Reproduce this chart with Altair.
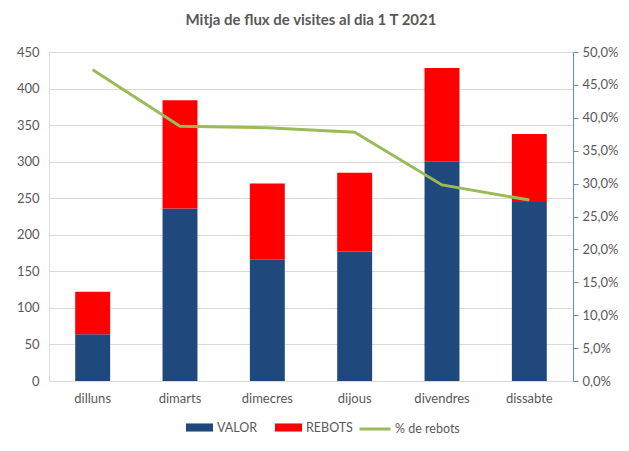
import altair as alt
import pandas as pd

days = ["dilluns", "dimarts", "dimecres", "dijous", "divendres", "dissabte"]
valor = [64, 236, 166, 177, 300, 245]
rebots = [58, 148, 104, 108, 128, 93]
pct_rebots = [47.3, 38.7, 38.5, 37.8, 29.8, 27.5]

series = ["VALOR", "REBOTS"]
bar_colors = ["#1F497D", "#FF0000"]
line_color = "#9BBB59"
text_color = "#595959"
FONT = "Lato"

rows = []
for d, v, r in zip(days, valor, rebots):
    rows.append({"dia": d, "serie": "VALOR", "valor": v, "ord": 0})
    rows.append({"dia": d, "serie": "REBOTS", "valor": r, "ord": 1})
bars_df = pd.DataFrame(rows)
line_df = pd.DataFrame({"dia": days, "pct": pct_rebots, "serie": ["% de rebots"] * len(days)})

x_enc = alt.X(
    "dia:N",
    sort=days,
    title=None,
    scale=alt.Scale(paddingInner=0.6, paddingOuter=0.3),
    axis=alt.Axis(labelAngle=0, ticks=False, domain=False, labelPadding=11,
                  labelFontSize=13, labelColor=text_color, labelFont=FONT, grid=False),
)

bars = alt.Chart(bars_df).mark_bar().encode(
    x=x_enc,
    y=alt.Y("valor:Q", stack="zero", title=None,
            scale=alt.Scale(domain=[0, 450], nice=False),
            axis=alt.Axis(values=list(range(0, 451, 50)), ticks=False, domain=False,
                          labelPadding=10, labelFontSize=13, labelColor=text_color,
                          labelFont=FONT, grid=True, gridColor="#D9D9D9")),
    color=alt.Color("serie:N", title=None,
                    scale=alt.Scale(domain=series, range=bar_colors),
                    legend=alt.Legend(orient="none", legendX=137, legendY=362,
                                      direction="horizontal",
                                      symbolType="M-1,-0.3H1V0.3H-1Z", symbolSize=729,
                                      symbolStrokeWidth=0, labelOffset=4, columnPadding=17,
                                      labelFontSize=12.5, labelColor=text_color, labelFont=FONT)),
    order=alt.Order("ord:Q"),
)

line = alt.Chart(line_df).mark_line(strokeWidth=3).encode(
    x=alt.X("dia:N", sort=days),
    y=alt.Y("pct:Q", title=None,
            scale=alt.Scale(domain=[0, 50], nice=False),
            axis=alt.Axis(orient="right", values=list(range(0, 51, 5)),
                          labelExpr="replace(format(datum.value, '.1f'), '.', ',') + '%'",
                          domainColor="#5B8DC9", tickColor="#5B8DC9", tickSize=5,
                          labelPadding=4, labelFontSize=13, labelColor=text_color,
                          labelFont=FONT, grid=False)),
    color=alt.Color("serie:N", title=None,
                    scale=alt.Scale(domain=["% de rebots"], range=[line_color]),
                    legend=alt.Legend(orient="none", legendX=309, legendY=360,
                                      symbolType="stroke", symbolSize=961,
                                      symbolStrokeWidth=3, labelOffset=3,
                                      labelFontSize=12.5, labelColor=text_color, labelFont=FONT)),
)

chart = alt.layer(bars, line).resolve_scale(
    y="independent", color="independent"
).properties(
    width=524,
    height=329,
    padding={"left": 41, "top": 44, "right": 48, "bottom": 60},
    autosize=alt.AutoSizeParams(type="none"),
    title=alt.TitleParams("Mitja de flux de visites al dia 1 T 2021", fontSize=15,
                          font=FONT, fontWeight="bold", color=text_color, offset=18),
).configure_view(stroke=None).configure(background="white")

chart.save("out.html", embed_options={"renderer": "svg", "actions": False})
